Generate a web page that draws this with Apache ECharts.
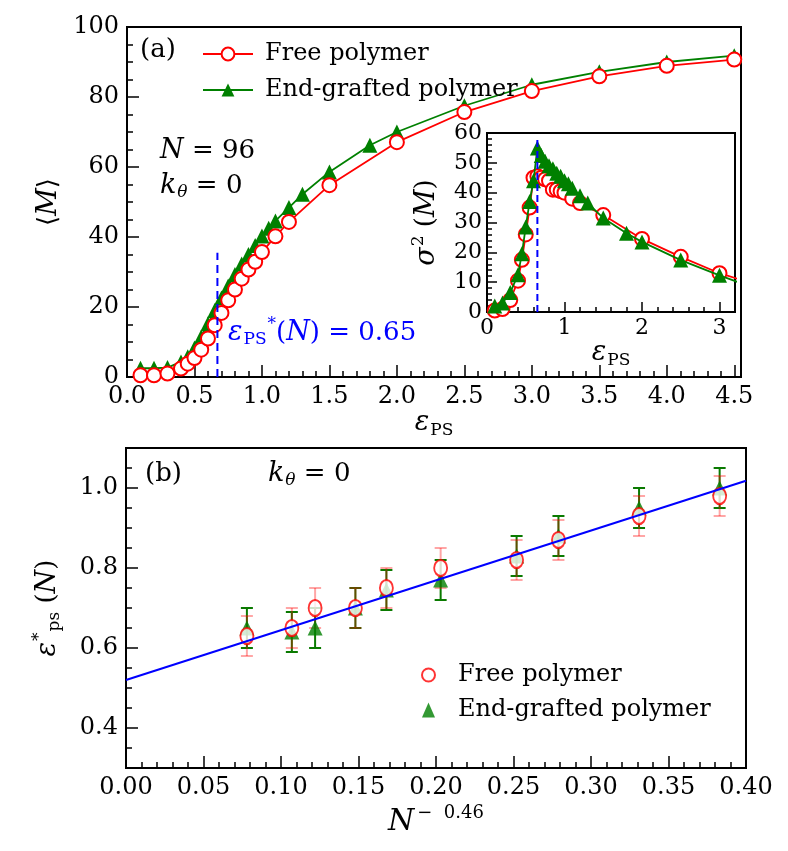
<!DOCTYPE html>
<html><head><meta charset="utf-8">
<script src="https://cdn.jsdelivr.net/npm/echarts@6/dist/echarts.min.js"></script>
<style>html,body{margin:0;padding:0;background:#fff}#c{width:788px;height:851px}</style>
</head><body><div id="c"></div>
<script>
// ---------- Panel (a): <M> vs eps_PS ----------
const epsFree = [0.1,0.2,0.3,0.4,0.45,0.5,0.55,0.6,0.65,0.7,0.75,0.8,0.85,0.9,0.95,1.0,1.1,1.2,1.5,2.0,2.5,3.0,3.5,4.0,4.5];
const mFree   = [0.5,0.5,1.0,2.4,3.8,5.4,7.8,11.0,14.8,18.3,21.9,25.0,28.1,30.7,32.9,35.7,40.2,44.3,54.8,67.1,75.7,81.7,85.9,88.9,90.7];
const epsGraft = [0.1,0.2,0.3,0.4,0.45,0.5,0.55,0.6,0.65,0.7,0.75,0.8,0.85,0.9,0.95,1.0,1.05,1.1,1.2,1.3,1.5,1.8,2.0,2.5,3.0,3.5,4.0,4.5];
const mGraft   = [2.5,2.5,2.7,4.3,5.8,8.3,11.5,15.2,19.0,22.6,26.0,29.3,32.3,35.0,37.6,40.3,42.5,44.6,48.4,52.2,58.6,66.2,70.0,77.5,83.5,87.2,90.0,91.8];
const dashA = [0.67, 35.5];          // eps*, top of dashed marker (main)
// ---------- Inset: sigma^2(M) vs eps_PS ----------
const epsVarFree = [0.1,0.2,0.3,0.4,0.45,0.5,0.55,0.6,0.65,0.7,0.75,0.8,0.85,0.9,0.95,1.0,1.1,1.2,1.5,2.0,2.5,3.0,3.5];
const varFree    = [0.5,1.0,4.0,10.5,17.5,26,35,45,45.5,45,44.5,44,41,41,40.5,40,38,36.5,32.5,24.5,18.5,13,9];
const epsVarGraft = [0.1,0.2,0.3,0.4,0.45,0.5,0.55,0.6,0.65,0.7,0.75,0.8,0.85,0.9,0.95,1.0,1.05,1.1,1.2,1.3,1.5,1.8,2.0,2.5,3.0,3.5];
const varGraft    = [2,3,6.5,12.5,19.5,28.5,37,44,55,52.5,50.5,49,48,46.5,45.5,44,43,41.5,39,36.5,31.5,26.4,23.5,17.4,12.3,7.5];
const dashIn = [0.65, 58];
// ---------- Panel (b): eps*(N) vs N^-0.46 ----------
const nInv      = [0.078,0.107,0.122,0.148,0.168,0.203,0.252,0.279,0.331,0.383];
const epsStarFree  = [0.63,0.65,0.70,0.70,0.75,0.80,0.82,0.87,0.93,0.98];
const errFree      = [0.05,0.05,0.05,0.05,0.05,0.05,0.05,0.05,0.05,0.05];
const epsStarGraft = [0.65,0.64,0.65,0.70,0.745,0.77,0.83,0.88,0.95,1.00];
const errGraft     = [0.05,0.05,0.05,0.05,0.05,0.05,0.05,0.05,0.05,0.05];
const fitX = [0, 0.40];
const fitY = [0.52, 1.018];
// ---------- tick labels ----------
const xTicksA = [0,0.5,1,1.5,2,2.5,3,3.5,4,4.5];
const xTicksIn = [0,1,2,3];
const yTicksB = [0.4,0.6,0.8,1.0];

const F = 'DejaVu Serif';
const chart = echarts.init(document.getElementById('c'), null, {renderer:'canvas'});
const zip = (a,b) => a.map((v,i)=>[v,b[i]]);
const tickStyle = {color:'#000', width:1.5};

function valAxis(o) {
  const ax = {
    type:'value', gridIndex:o.grid, min:o.min, max:o.max, interval:o.interval,
    splitLine:{show:false},
    axisLine:{show:false},
    axisTick:{show:true, inside:true, length:o.major, lineStyle:tickStyle},
    minorTick:{show:!!o.minorSplit, splitNumber:o.minorSplit||5, length:o.minor, lineStyle:tickStyle},
    axisLabel:{show:o.label!==false, fontFamily:F, fontSize:o.fs||24, color:'#000', margin:o.margin, formatter:o.fmt},
    z:o.z||0
  };
  if (o.ticks) { ax.axisTick.customValues = o.ticks; ax.axisLabel.customValues = o.ticks; }
  if (o.position) ax.position = o.position;
  if (o.name) {
    ax.name = o.name; ax.nameLocation = 'middle'; ax.nameGap = o.nameGap;
    if (o.nameRotate !== undefined) ax.nameRotate = o.nameRotate;
    ax.nameTextStyle = {color:'#000', fontFamily:F, fontSize:26, rich:o.rich};
  }
  return ax;
}

const richBase = {
  it:{fontFamily:F, fontStyle:'italic', fontSize:27},
  rm:{fontFamily:F, fontSize:26},
  sub:{fontFamily:F, fontSize:17, padding:[14,0,0,1]},
  subi:{fontFamily:F, fontStyle:'italic', fontSize:17, padding:[14,0,0,1]},
  sup:{fontFamily:F, fontSize:17, padding:[0,0,16,1]}
};

function errRender(color, cap, lw) {
  return function(params, api) {
    const x = api.value(0), lo = api.value(1), hi = api.value(2);
    const p1 = api.coord([x, lo]), p2 = api.coord([x, hi]);
    const st = {stroke:color, lineWidth:lw, fill:null};
    return {type:'group', children:[
      {type:'line', shape:{x1:p1[0],y1:p1[1],x2:p2[0],y2:p2[1]}, style:st},
      {type:'line', shape:{x1:p1[0]-cap,y1:p1[1],x2:p1[0]+cap,y2:p1[1]}, style:st},
      {type:'line', shape:{x1:p2[0]-cap,y1:p2[1],x2:p2[0]+cap,y2:p2[1]}, style:st}
    ]};
  };
}

const option = {
  animation:false,
  backgroundColor:'#fff',
  grid:[
    {left:127, top:27, width:614, height:350, show:true, borderColor:'#000', borderWidth:2, backgroundColor:'rgba(0,0,0,0)'},
    {left:487, top:133, width:248, height:179, show:true, borderColor:'#000', borderWidth:2, backgroundColor:'#fff', z:10},
    {left:126, top:448, width:620, height:320, show:true, borderColor:'#000', borderWidth:2, backgroundColor:'rgba(0,0,0,0)'}
  ],
  xAxis:[
    valAxis({grid:0, min:0, max:4.55, interval:0.5, major:12, minor:6, minorSplit:5, ticks:xTicksA, margin:8,
      fmt:v=>v.toFixed(1), name:'{it|ε}{sub|PS}', nameGap:30, rich:richBase}),
    valAxis({grid:1, min:0, max:3.2, interval:1, major:10, minor:5, minorSplit:5, ticks:xTicksIn, margin:5, fs:22, z:12,
      fmt:v=>String(Math.round(v)), name:'{it|ε}{sub|PS}', nameGap:18, rich:richBase}),
    valAxis({grid:2, min:0, max:0.40, interval:0.05, major:12, minor:6, minorSplit:5, margin:8,
      fmt:v=>v.toFixed(2), name:'{it|N}{sup|−  0.46}', nameGap:36,
      rich:Object.assign({}, richBase, {it:{fontFamily:F, fontStyle:'italic', fontSize:30}, sup:{fontFamily:F, fontSize:18, padding:[0,0,18,3]}})})
  ],
  yAxis:[
    valAxis({grid:0, min:0, max:100, interval:20, major:12, minor:6, minorSplit:4, margin:8,
      fmt:v=>String(v), name:'{rm|⟨}{it|M}{rm|⟩}', nameGap:58, nameRotate:90, rich:richBase}),
    valAxis({grid:1, min:0, max:60, interval:10, major:10, minor:5, minorSplit:5, margin:5, fs:22, z:12,
      fmt:v=>String(v), name:'{it|σ}{sup|2} {rm|(}{it|M}{rm|)}', nameGap:44, nameRotate:90, rich:richBase}),
    valAxis({grid:2, min:0.3, max:1.1, interval:0.05, major:6, minor:6, label:false, position:'left'}),
    valAxis({grid:2, min:0.3, max:1.1, interval:0.1, major:12, minor:6, ticks:yTicksB, margin:8, position:'left',
      fmt:v=>v.toFixed(1), name:'{it|ε}{sup|*}{sub|ps} {rm|(}{it|N}{rm|)}', nameGap:62, nameRotate:90, rich:richBase})
  ],
  legend:[
    {data:['Free polymer','End-grafted polymer'], orient:'vertical', left:197, top:37, itemWidth:50, itemHeight:16,
     itemGap:12, selectedMode:false, textStyle:{fontFamily:F, fontSize:24, color:'#000', padding:[0,0,0,7]}},
    {data:['Free polymer (b)','End-grafted polymer (b)'], orient:'vertical', left:416, top:658, itemWidth:13, itemHeight:15,
     itemGap:11, selectedMode:false, formatter:n=>n.replace(' (b)',''),
     textStyle:{fontFamily:F, fontSize:24, color:'#000', padding:[0,0,0,18]}}
  ],
  series:[
    // main panel
    {name:'End-grafted polymer', type:'line', xAxisIndex:0, yAxisIndex:0, data:zip(epsGraft,mGraft),
     symbol:'triangle', symbolSize:15, itemStyle:{color:'#008000'}, lineStyle:{color:'#008000', width:1.8}, z:3},
    {name:'Free polymer', type:'line', xAxisIndex:0, yAxisIndex:0, data:zip(epsFree,mFree),
     symbol:'emptyCircle', symbolSize:14, itemStyle:{color:'#ff0000', borderWidth:1.3}, lineStyle:{color:'#ff0000', width:1.8}, z:4},
    {name:'dash main', type:'line', xAxisIndex:0, yAxisIndex:0, data:[[dashA[0],0],[dashA[0],dashA[1]]],
     symbol:'none', lineStyle:{color:'#0000ff', width:2, type:[8,5]}, z:5},
    // inset
    {name:'Free polymer inset', type:'line', xAxisIndex:1, yAxisIndex:1, data:zip(epsVarFree,varFree),
     symbol:'emptyCircle', symbolSize:14, itemStyle:{color:'#ff0000', borderWidth:1.3}, lineStyle:{color:'#ff0000', width:1.8}, z:13},
    {name:'End-grafted polymer inset', type:'line', xAxisIndex:1, yAxisIndex:1, data:zip(epsVarGraft,varGraft),
     symbol:'triangle', symbolSize:15, itemStyle:{color:'#008000'}, lineStyle:{color:'#008000', width:1.8}, z:14},
    {name:'dash inset', type:'line', xAxisIndex:1, yAxisIndex:1, data:[[dashIn[0],0],[dashIn[0],dashIn[1]]],
     symbol:'none', lineStyle:{color:'#0000ff', width:2, type:[7,4]}, z:15},
    // panel (b)
    {name:'err graft', type:'custom', xAxisIndex:2, yAxisIndex:2,
     data:nInv.map((x,i)=>[x, epsStarGraft[i]-errGraft[i], epsStarGraft[i]+errGraft[i]]),
     encode:{x:0, y:[1,2]}, renderItem:errRender('#0a7a00', 6, 2), z:2},
    {name:'err free', type:'custom', xAxisIndex:2, yAxisIndex:2,
     data:nInv.map((x,i)=>[x, epsStarFree[i]-errFree[i], epsStarFree[i]+errFree[i]]),
     encode:{x:0, y:[1,2]}, renderItem:errRender('rgba(255,0,0,0.35)', 6, 2), z:3},
    {name:'End-grafted polymer (b)', type:'scatter', xAxisIndex:2, yAxisIndex:2, data:zip(nInv,epsStarGraft),
     symbol:'triangle', symbolSize:15, itemStyle:{color:'#008000'}, z:4},
    {name:'Free polymer (b)', type:'scatter', xAxisIndex:2, yAxisIndex:2, data:zip(nInv,epsStarFree),
     symbol:'emptyCircle', symbolSize:[13,16], itemStyle:{color:'#ff0000', borderWidth:1.3}, z:5},
    {name:'fit', type:'line', xAxisIndex:2, yAxisIndex:2, data:zip(fitX,fitY),
     symbol:'none', lineStyle:{color:'#0000ff', width:2}, z:8}
  ],
  graphic:[
    {type:'text', x:140, y:50, style:{text:'(a)', font:'26px "DejaVu Serif"', fill:'#000', align:'left', verticalAlign:'middle'}},
    {type:'text', x:160, y:151, style:{text:'{it|N}{rm| = 96}', fill:'#000', align:'left', verticalAlign:'middle', rich:richBase}},
    {type:'text', x:160, y:186, style:{text:'{it|k}{subi|θ}{rm| = 0}', fill:'#000', align:'left', verticalAlign:'middle', rich:richBase}},
    {type:'text', x:228, y:333, style:{text:'{it|ε}{sub|PS}{sup|*}{rm|(}{it|N}{rm|) = 0.65}', fill:'#0000ff', align:'left', verticalAlign:'middle', rich:richBase}},
    {type:'text', x:145, y:474, style:{text:'(b)', font:'26px "DejaVu Serif"', fill:'#000', align:'left', verticalAlign:'middle'}},
    {type:'text', x:268, y:474, style:{text:'{it|k}{subi|θ}{rm| = 0}', fill:'#000', align:'left', verticalAlign:'middle', rich:richBase}}
  ]
};
chart.setOption(option);
</script>
</body></html>
